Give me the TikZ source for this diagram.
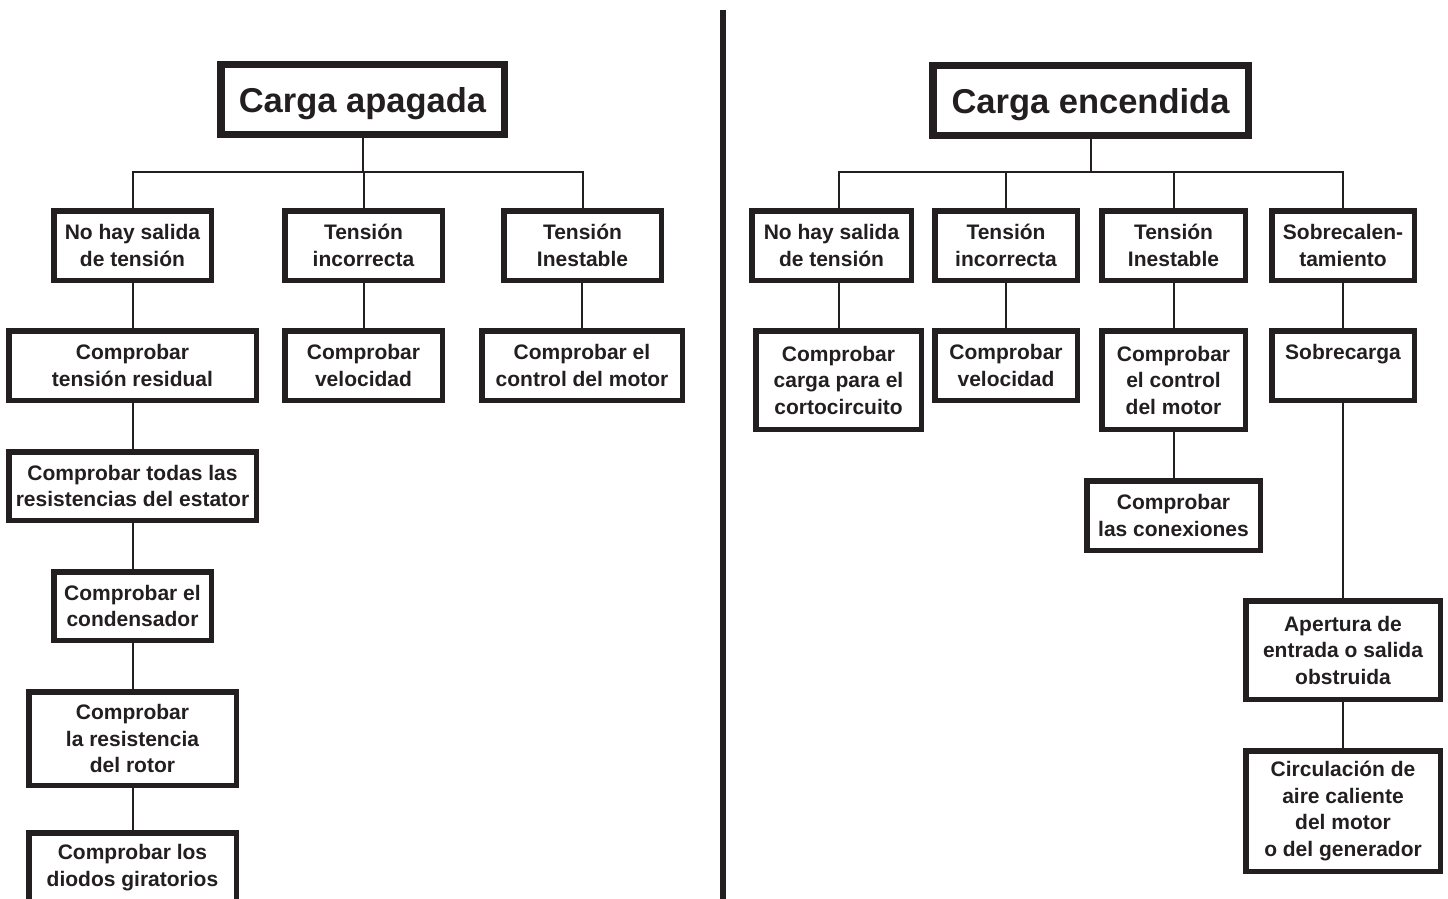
\documentclass[tikz,border=0pt]{standalone}
\usepackage{fontspec}
\setmainfont{Liberation Sans}
\definecolor{ink}{RGB}{35,31,32}
\tikzset{
  tb/.style={draw=ink, fill=white, text=ink, inner sep=0pt, align=center,
    font=\bfseries\fontsize{21}{26.5}\selectfont},
  ttl/.style={font=\bfseries\fontsize{34.5}{40}\selectfont, text height=26pt, text depth=0pt},
  conn/.style={draw=ink, line width=2pt},
  divider/.style={draw=ink, line width=6pt},
}
\newcommand\tbox[8][]{%
  \node[tb,#1,line width=#7pt,minimum width={(#4-#3-#7)*1pt},minimum height={(#6-#5-#7)*1pt}]
    (#2) at ({(#3+#4)/2},{(#5+#6)/2}) {#8};}
\begin{document}
\begin{tikzpicture}[x=1pt,y=-1pt]
\path[use as bounding box] (0,0) rectangle (1448,899);
\clip (0,0) rectangle (1448,899);
\fill[white] (0,0) rectangle (1448,899);

% divider
\draw[divider] (723,10) -- (723,899);

% ---------- left tree ----------
\tbox[ttl]{t1}{217}{508}{61}{138}{7.5}{Carga apagada}
\tbox{a1}{51}{214}{208}{283}{5.5}{No hay salida\\de tensión}
\tbox{a2}{282}{445}{208}{283}{5.5}{Tensión\\incorrecta}
\tbox{a3}{501}{664}{208}{283}{5.5}{Tensión\\Inestable}
\tbox{b1}{6}{259}{328}{403}{5.5}{Comprobar\\tensión residual}
\tbox{b2}{282}{445}{328}{403}{5.5}{Comprobar\\velocidad}
\tbox{b3}{479}{685}{328}{403}{5.5}{Comprobar el\\control del motor}
\tbox{c1}{6}{259}{449}{523}{5.5}{Comprobar todas las\\resistencias del estator}
\tbox{c2}{51}{214}{569}{643}{5.5}{Comprobar el\\condensador}
\tbox{c3}{26}{239}{689}{788}{5.5}{Comprobar\\la resistencia\\del rotor}
\tbox{c4}{26}{239}{830}{905}{5.5}{Comprobar los\\diodos giratorios}

\coordinate (lb) at (362.5,172);
\draw[conn] (t1.south) -- (lb);
\draw[conn] (a1.north) |- (lb) -| (a3.north);
\draw[conn] (a2.north) -- (a2.north |- lb);
\draw[conn] (a1.south) -- (b1.north);
\draw[conn] (a2.south) -- (b2.north);
\draw[conn] (b3.north) -- (b3.north |- a3.south);
\draw[conn] (b1.south) -- (c1.north);
\draw[conn] (c1.south) -- (c2.north);
\draw[conn] (c2.south) -- (c3.north);
\draw[conn] (c3.south) -- (c4.north);

% ---------- right tree ----------
\tbox[ttl]{t2}{929}{1252}{62}{139}{7.5}{Carga encendida}
\tbox{r1}{749}{914}{208}{283}{5.5}{No hay salida\\de tensión}
\tbox{r2}{932}{1080}{208}{283}{5.5}{Tensión\\incorrecta}
\tbox{r3}{1099}{1248}{208}{283}{5.5}{Tensión\\Inestable}
\tbox{r4}{1269}{1417}{208}{283}{5.5}{Sobrecalen-\\tamiento}
\tbox{s1}{753}{924}{328}{432}{5.5}{Comprobar\\carga para el\\cortocircuito}
\tbox{s2}{932}{1080}{328}{403}{5.5}{Comprobar\\velocidad}
\tbox{s3}{1099}{1248}{328}{432}{5.5}{Comprobar\\el control\\del motor}
\tbox{s4}{1269}{1417}{328}{403}{5.5}{Sobrecarga\\\mbox{}}
\tbox{u3}{1084}{1263}{478}{553}{5.5}{Comprobar\\las conexiones}
\tbox{u4}{1243}{1443}{598}{702}{5.5}{Apertura de\\entrada o salida\\obstruida}
\tbox{v4}{1243}{1443}{748}{874}{5.5}{Circulación de\\aire caliente\\del motor\\o del generador}

\coordinate (rb) at (1090.5,172);
\draw[conn] (t2.south) -- (rb);
\draw[conn] (s1.north |- r1.north) |- (rb) -| (r4.north);
\draw[conn] (r2.north) -- (r2.north |- rb);
\draw[conn] (r3.north) -- (r3.north |- rb);
\draw[conn] (s1.north) -- (s1.north |- r1.south);
\draw[conn] (r2.south) -- (s2.north);
\draw[conn] (r3.south) -- (s3.north);
\draw[conn] (s3.south) -- (u3.north);
\draw[conn] (r4.south) -- (s4.north);
\draw[conn] (s4.south) -- (u4.north);
\draw[conn] (u4.south) -- (v4.north);
\end{tikzpicture}
\end{document}
